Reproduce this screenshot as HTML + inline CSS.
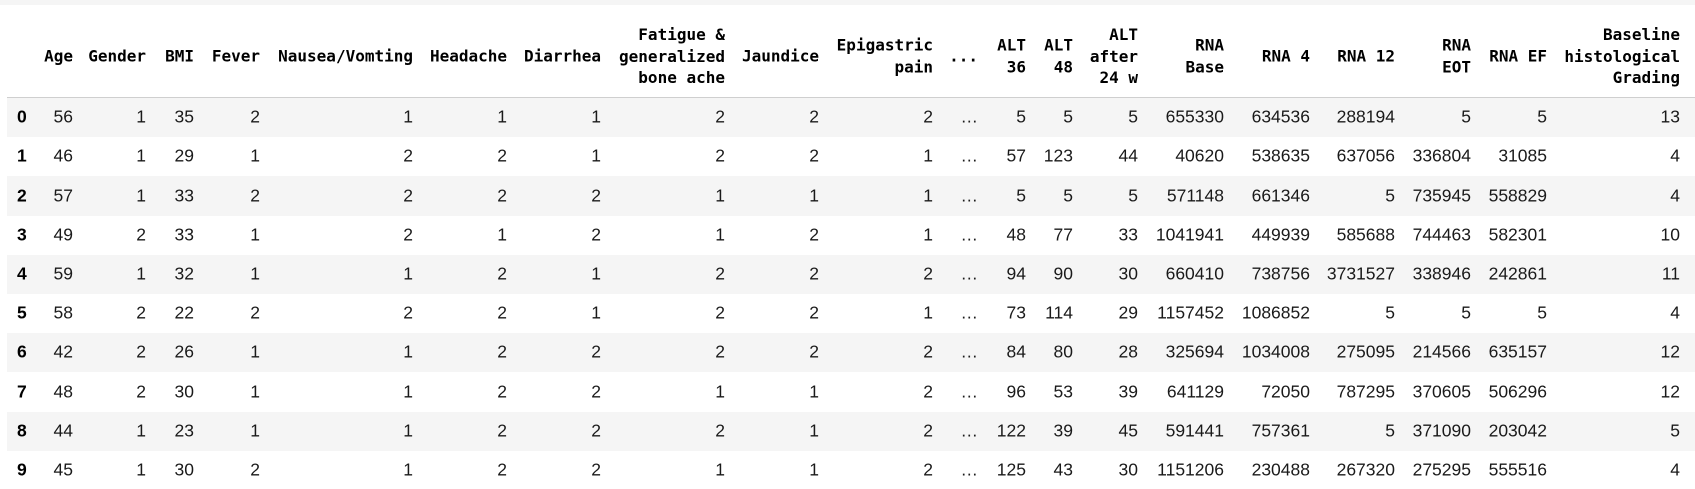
<!DOCTYPE html>
<html><head><meta charset="utf-8">
<style>
html,body{margin:0;padding:0;background:#fff;width:1695px;height:489px;overflow:hidden;}
#wrap{position:relative;width:1695px;height:489px;}
.top{position:absolute;left:0;top:0;width:1695px;height:5px;background:#f5f5f5;}
.hdr{position:absolute;font-family:"DejaVu Sans Mono","Liberation Mono",monospace;font-weight:bold;font-size:16px;line-height:21.5px;color:#000;text-align:right;white-space:nowrap;transform:translateY(-50%);}
.row{position:absolute;left:7px;width:1688px;}
.cell{position:absolute;font-family:"Liberation Sans",Arial,sans-serif;font-size:17.5px;color:#1a1a1a;white-space:nowrap;transform:translate(-100%,-50%);}
.idx{font-weight:bold;color:#000;transform:translate(0,-50%);}
.line{position:absolute;left:7px;width:1688px;top:97px;height:1px;background:#cfcfcf;}
</style></head>
<body>
<div id="wrap">
<div class="top"></div>
<div class="line"></div>
</div>
<script>
const headers=[["Age"],["Gender"],["BMI"],["Fever"],["Nausea/Vomting"],["Headache"],["Diarrhea"],["Fatigue &","generalized","bone ache"],["Jaundice"],["Epigastric","pain"],["..."],["ALT","36"],["ALT","48"],["ALT","after","24 w"],["RNA","Base"],["RNA 4"],["RNA 12"],["RNA","EOT"],["RNA EF"],["Baseline","histological","Grading"]];
const rights=[73,146,194,260,413,507,601,725,819,933,978,1026,1073,1138,1224,1310,1395,1471,1547,1680];
const rows=[
[56,1,35,2,1,1,1,2,2,2,"...",5,5,5,655330,634536,288194,5,5,13],
[46,1,29,1,2,2,1,2,2,1,"...",57,123,44,40620,538635,637056,336804,31085,4],
[57,1,33,2,2,2,2,1,1,1,"...",5,5,5,571148,661346,5,735945,558829,4],
[49,2,33,1,2,1,2,1,2,1,"...",48,77,33,1041941,449939,585688,744463,582301,10],
[59,1,32,1,1,2,1,2,2,2,"...",94,90,30,660410,738756,3731527,338946,242861,11],
[58,2,22,2,2,2,1,2,2,1,"...",73,114,29,1157452,1086852,5,5,5,4],
[42,2,26,1,1,2,2,2,2,2,"...",84,80,28,325694,1034008,275095,214566,635157,12],
[48,2,30,1,1,2,2,1,1,2,"...",96,53,39,641129,72050,787295,370605,506296,12],
[44,1,23,1,1,2,2,2,1,2,"...",122,39,45,591441,757361,5,371090,203042,5],
[45,1,30,2,1,2,2,1,1,2,"...",125,43,30,1151206,230488,267320,275295,555516,4]];
const wrap=document.getElementById('wrap');
headers.forEach((h,i)=>{
  const d=document.createElement('div');
  d.className='hdr';
  
  
  d.innerHTML=h.map(s=>s.replace(/&/g,'&amp;')).join('<br>');
  d.style.right=(1695-rights[i])+'px';
  d.style.top='56px';
  wrap.appendChild(d);
});
const RH=39.2, R0=98;
rows.forEach((r,ri)=>{
  const row=document.createElement('div');
  row.className='row';
  
  
  row.style.top=(R0+ri*RH)+'px';
  row.style.height=RH+'px';
  row.style.background=ri%2===0?'#f5f5f5':'#fff';
  wrap.appendChild(row);
  const cy=R0+ri*RH+RH/2-0.5;
  const ix=document.createElement('div');
  ix.className='cell idx';
  
  
  ix.textContent=ri;
  ix.style.left='17px';
  ix.style.top=cy+'px';
  wrap.appendChild(ix);
  r.forEach((v,ci)=>{
    const c=document.createElement('div');
    c.className='cell';
    
    
    c.textContent=v==="..."?"…":v;
    c.style.left=rights[ci]+'px';
    c.style.top=cy+'px';
    wrap.appendChild(c);
  });
});
</script>
</body></html>
